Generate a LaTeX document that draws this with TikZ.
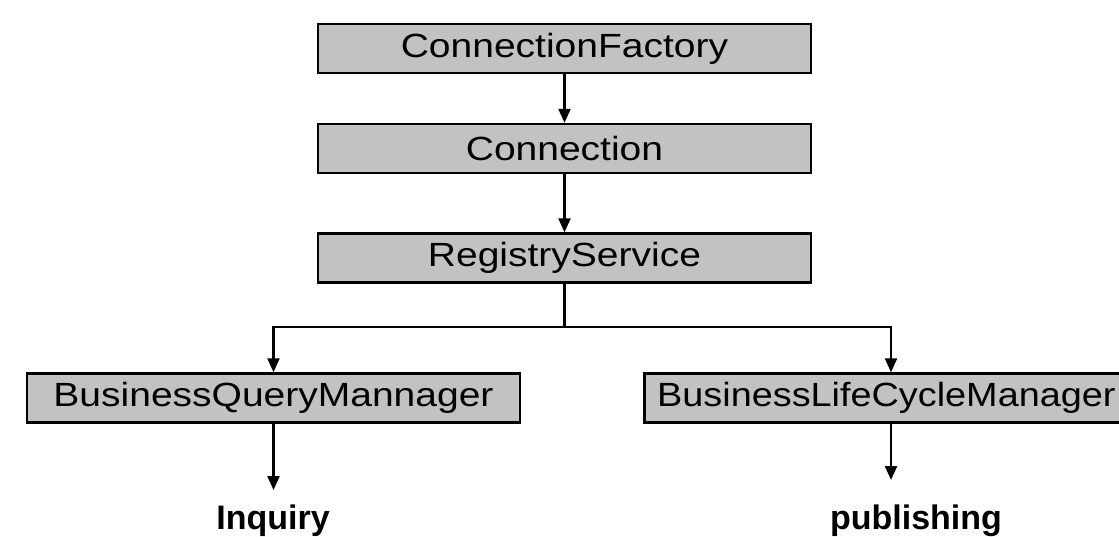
\documentclass[tikz,border=0pt]{standalone}
\usepackage{fontspec}
\setmainfont{Liberation Sans}
\usetikzlibrary{arrows.meta}
\newcommand{\boxlabel}[1]{\scalebox{1}[0.86]{#1}}
\newcommand{\narrowlabel}[1]{\scalebox{0.97}[0.86]{#1}}
\begin{document}
\begin{tikzpicture}[x=1pt,y=-1pt,
  classbox/.style={draw=black, line width=2.4pt, fill=black!24,
    minimum width=493pt, minimum height=49pt, inner sep=0pt,
    font=\fontsize{39}{39}\selectfont},
  flow/.style={line width=2.2pt, -{Triangle[width=12pt,length=14pt]}},
  link/.style={line width=2.2pt},
  result/.style={font=\fontsize{34}{34}\selectfont\bfseries, inner sep=0pt}]
\useasboundingbox (0,0) rectangle (1119,537);
\fill[white] (0,0) rectangle (1119,537);

% interface chain
\node[classbox] (factory)  at (564.5,48.5) {\boxlabel{ConnectionFactory}};
\node[classbox] (conn)     at (564.5,148.5) {\boxlabel{Connection}};
\node[classbox] (registry) at (564.5,258) {\boxlabel{RegistryService}};
\node[classbox] (query)    at (273.5,398) {\boxlabel{BusinessQueryMannager}};
\node[classbox] (life)     at (891,398) {};
\node[font=\fontsize{39}{39}\selectfont, inner sep=0pt, anchor=west]
  (lifetext) at (657,398) {\narrowlabel{BusinessLifeCycleManager}};

% outcomes
\node[result] (inquiry)    at (273,521) {Inquiry};
\node[result] (publishing) at (916,521) {publishing};

\coordinate (split) at (564.5,327);
\coordinate (inqEnd) at (273.5,490);
\coordinate (pubEnd) at (891,480);

\draw[flow] (factory.south) -- (conn.north);
\draw[flow] (conn.south) -- (registry.north);
\draw[link] (registry.south) -- (split);
\draw[flow] (split) -| (query.north);
\draw[flow] (split) -| (life.north);
\draw[flow] (query.south) -- (inqEnd);
\draw[flow] (life.south) -- (pubEnd);
\end{tikzpicture}
\end{document}
